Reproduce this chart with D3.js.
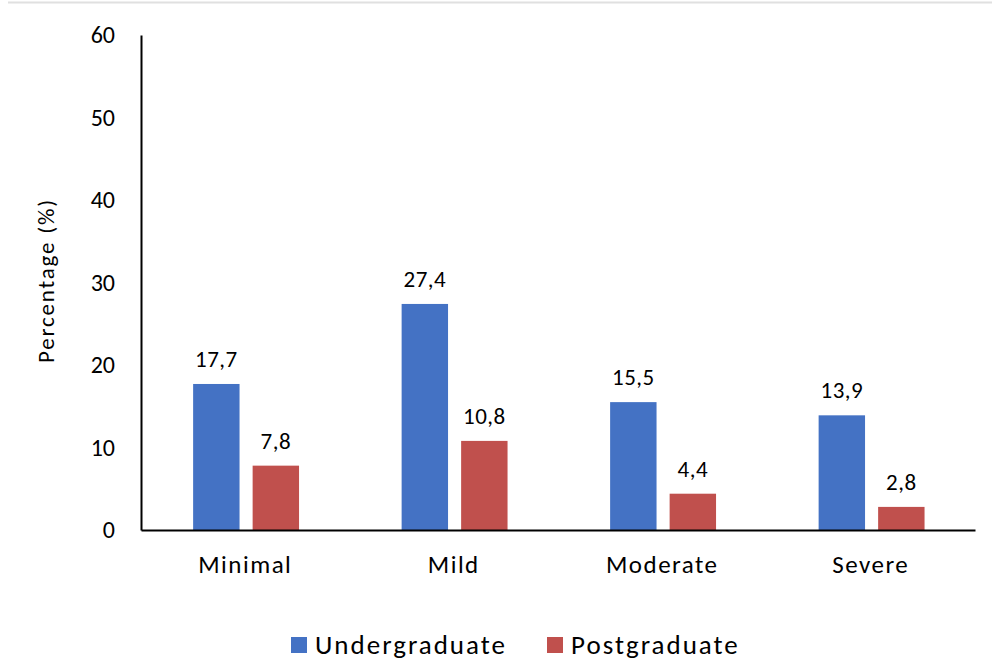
<!DOCTYPE html>
<html lang="en">
<head>
    <meta charset="UTF-8">
    <title>Percentage by level</title>
    <style>
        body {
            margin: 0;
            background: #fff;
            font-family: Carlito, Lato, "Open Sans", sans-serif;
        }
        svg text {
            font-family: Carlito, Lato, "Open Sans", sans-serif;
            fill: #000;
        }
        .y-axis .tick text {
            font-size: 24px;
        }
        .x-axis .tick text {
            font-size: 25px;
            letter-spacing: 1.5px;
        }
        .bar-label {
            font-size: 23px;
            letter-spacing: 0.5px;
        }
        .axis-title {
            font-size: 23px;
            letter-spacing: 1.8px;
        }
        .legend-text {
            font-size: 27px;
            letter-spacing: 2px;
        }
    </style>
</head>
<body>
    <div id="chart"></div>

    <script src="https://d3js.org/d3.v7.min.js"></script>
    <script>
        // Data
        const categories = ['Minimal', 'Mild', 'Moderate', 'Severe'];
        const seriesNames = ['Undergraduate', 'Postgraduate'];
        const undergraduate = [17.7, 27.4, 15.5, 13.9];
        const postgraduate = [7.8, 10.8, 4.4, 2.8];
        const yTicks = [0, 10, 20, 30, 40, 50, 60];
        const colors = ['#4472C4', '#C0504D'];

        const rows = categories.map((c, i) => ({
            category: c,
            values: [undergraduate[i], postgraduate[i]]
        }));

        const W = 992, H = 667;
        const margin = { top: 35, right: 17, bottom: 137, left: 141 };
        const width = W - margin.left - margin.right;
        const height = H - margin.top - margin.bottom;

        const root = d3.select('#chart')
            .append('svg')
            .attr('width', W)
            .attr('height', H);

        // thin frame line at the top
        root.append('line')
            .attr('x1', 8).attr('x2', W)
            .attr('y1', 2.5).attr('y2', 2.5)
            .attr('stroke', '#e0e0e0')
            .attr('stroke-width', 2);

        const svg = root.append('g')
            .attr('transform', `translate(${margin.left},${margin.top})`);

        const x0 = d3.scaleBand()
            .domain(categories)
            .range([0, width])
            .padding(0);

        const x1 = d3.scaleBand()
            .domain(seriesNames)
            .range([x0.bandwidth() * 0.25, x0.bandwidth() * 0.758])
            .paddingInner(0.22);

        const y = d3.scaleLinear()
            .domain([0, 60])
            .range([height, 0]);

        // bars
        const groups = svg.selectAll('.group')
            .data(rows)
            .enter()
            .append('g')
            .attr('transform', d => `translate(${x0(d.category)},0)`);

        groups.selectAll('rect')
            .data(d => d.values.map((v, i) => ({ key: seriesNames[i], value: v, i })))
            .enter()
            .append('rect')
            .attr('x', d => x1(d.key))
            .attr('y', d => y(d.value))
            .attr('width', x1.bandwidth())
            .attr('height', d => height - y(d.value))
            .attr('fill', d => colors[d.i]);

        groups.selectAll('.bar-label')
            .data(d => d.values.map((v, i) => ({ key: seriesNames[i], value: v })))
            .enter()
            .append('text')
            .attr('class', 'bar-label')
            .attr('x', d => x1(d.key) + x1.bandwidth() / 2)
            .attr('y', d => y(d.value) - 17)
            .attr('text-anchor', 'middle')
            .text(d => d.value.toFixed(1).replace('.', ','));

        // y axis
        const yAxis = svg.append('g')
            .attr('class', 'y-axis')
            .call(d3.axisLeft(y).tickValues(yTicks).tickSize(0).tickPadding(26));
        yAxis.select('.domain').attr('stroke', '#000').attr('stroke-width', 2);

        // x axis
        const xAxis = svg.append('g')
            .attr('class', 'x-axis')
            .attr('transform', `translate(0,${height})`)
            .call(d3.axisBottom(x0).tickSize(0).tickPadding(25));
        xAxis.select('.domain').attr('stroke', '#000').attr('stroke-width', 2);

        svg.append('text')
            .attr('class', 'axis-title')
            .attr('transform', 'rotate(-90)')
            .attr('x', -height / 2 + 2)
            .attr('y', -margin.left + 54)
            .attr('text-anchor', 'middle')
            .text('Percentage (%)');

        // legend
        const legend = root.append('g')
            .attr('transform', 'translate(291,637)');
        const legendX = [0, 256];
        seriesNames.forEach((name, i) => {
            const g = legend.append('g').attr('transform', `translate(${legendX[i]},0)`);
            g.append('rect')
                .attr('width', 16)
                .attr('height', 16)
                .attr('fill', colors[i]);
            g.append('text')
                .attr('class', 'legend-text')
                .attr('x', 24)
                .attr('y', 17)
                .text(name);
        });
    </script>
</body>
</html>
